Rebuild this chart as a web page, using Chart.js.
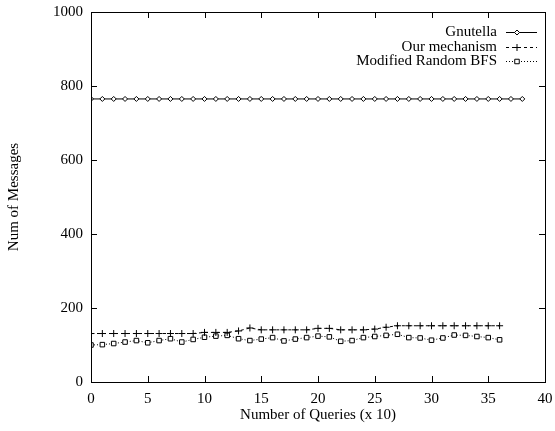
<!DOCTYPE html>
<html>
<head>
<meta charset="utf-8">
<script src="https://cdn.jsdelivr.net/npm/chart.js@4"></script>
<style>
html,body{margin:0;padding:0;background:#fff;}
#wrap{width:555px;height:431px;position:relative;}
</style>
</head>
<body>
<div id="wrap"><canvas id="c" width="555" height="431"></canvas></div>
<script>
// ---- data ----
const queries = [0,1,2,3,4,5,6,7,8,9,10,11,12,13,14,15,16,17,18,19,20,21,22,23,24,25,26,27,28,29,30,31,32,33,34,35,36,37,38];
const gnutella = [765,765,765,765,765,765,765,765,765,765,765,765,765,765,765,765,765,765,765,765,765,765,765,765,765,765,765,765,765,765,765,765,765,765,765,765,765,765,765];
const ourMechanism = [131,131,131,131,131,131,131,131,131,131,134,134,134,138,146,141,141,141,141,141,145,145,141,141,141,143,148,152,152,152,152,152,152,152,152,152,152];
const randomBFS = [100,101,104,108,112,106,112,117,108,115,121,124,126,117,112,116,120,111,116,120,124,122,110,112,120,123,126,129,120,119,113,119,127,126,123,120,114];
const seriesNames = ["Gnutella","Our mechanism","Modified Random BFS"];
const yTicks = [0,200,400,600,800,1000];
const xTicks = [0,5,10,15,20,25,30,35,40];

const FONT = "'Liberation Serif', 'DejaVu Serif', serif";
const FS = 15;
const pts = arr => arr.map((v,i)=>({x:queries[i], y:v}));

const styles = [
  {pointStyle:'rectRot', radius:2.5, dash:[]},
  {pointStyle:'cross', radius:3.5, dash:[3,3]},
  {pointStyle:'rect', radius:3.2, dash:[1,2]}
];
const seriesData = [gnutella, ourMechanism, randomBFS];

const datasets = seriesData.map((d,i)=>({
  label: seriesNames[i],
  data: pts(d),
  borderColor:'#000',
  backgroundColor:'#fff',
  borderWidth:1,
  borderDash: styles[i].dash,
  pointStyle: styles[i].pointStyle,
  pointRadius: styles[i].radius,
  pointBorderColor:'#000',
  pointBackgroundColor:'#fff',
  pointBorderWidth:1,
  tension:0
}));

const frame = {
  id:'frame',
  afterDraw(chart){
    const {ctx, chartArea:a, scales} = chart;
    ctx.save();
    ctx.strokeStyle='#000';
    ctx.lineWidth=1;
    ctx.setLineDash([]);
    ctx.strokeRect(Math.round(a.left)+0.5, Math.round(a.top)+0.5, Math.round(a.right-a.left), Math.round(a.bottom-a.top));
    const L=6;
    ctx.beginPath();
    yTicks.forEach(v=>{
      const y=Math.round(scales.y.getPixelForValue(v))+0.5;
      ctx.moveTo(a.left, y); ctx.lineTo(a.left+L, y);
      ctx.moveTo(a.right, y); ctx.lineTo(a.right-L, y);
    });
    xTicks.forEach(v=>{
      const x=Math.round(scales.x.getPixelForValue(v))+0.5;
      ctx.moveTo(x, a.bottom); ctx.lineTo(x, a.bottom-L);
      ctx.moveTo(x, a.top); ctx.lineTo(x, a.top+L);
    });
    ctx.stroke();

    // legend (gnuplot style: text right-aligned, sample to the right)
    ctx.font = FS + "px " + FONT;
    ctx.textAlign='right';
    ctx.textBaseline='middle';
    const rowY=[32,47,61];
    seriesNames.forEach((name,i)=>{
      const y=rowY[i];
      ctx.fillStyle='#000';
      ctx.fillText(name, 497, y);
      ctx.beginPath();
      ctx.setLineDash(styles[i].dash);
      ctx.moveTo(506, y+0.5); ctx.lineTo(537, y+0.5);
      ctx.stroke();
      ctx.setLineDash([]);
      ctx.fillStyle='#fff';
      ctx.strokeStyle='#000';
      Chart.helpers.drawPoint(ctx, {pointStyle:styles[i].pointStyle, radius:styles[i].radius, borderWidth:1}, 517, y+0.5);
    });
    ctx.restore();
  }
};

new Chart(document.getElementById('c'), {
  type:'line',
  data:{datasets},
  options:{
    responsive:false,
    animation:false,
    devicePixelRatio:1,
    layout:{padding:{top:12,right:10,left:0,bottom:0}},
    plugins:{legend:{display:false}, tooltip:{enabled:false}},
    scales:{
      x:{
        type:'linear', min:0, max:40,
        afterFit(s){ s.height=49; s.paddingLeft=0; s.paddingRight=0; },
        afterBuildTicks(s){ s.ticks = xTicks.map(v=>({value:v})); },
        border:{display:false},
        grid:{display:false, drawTicks:false},
        ticks:{color:'#000', font:{family:FONT, size:FS}, padding:8, maxRotation:0, callback:v=>String(v)},
        title:{display:true, text:'Number of Queries (x 10)', color:'#000', font:{family:FONT, size:FS}, padding:{top:0,bottom:7}}
      },
      y:{
        type:'linear', min:0, max:1000,
        afterFit(s){ s.width=91; s.paddingTop=0; s.paddingBottom=0; },
        afterBuildTicks(s){ s.ticks = yTicks.map(v=>({value:v})); },
        border:{display:false},
        grid:{display:false, drawTicks:false},
        ticks:{color:'#000', font:{family:FONT, size:FS}, padding:8, callback:v=>String(v)},
        title:{display:true, text:'Num of Messages', color:'#000', font:{family:FONT, size:FS}, padding:{top:5,bottom:0}}
      }
    }
  },
  plugins:[frame]
});
</script>
</body>
</html>
